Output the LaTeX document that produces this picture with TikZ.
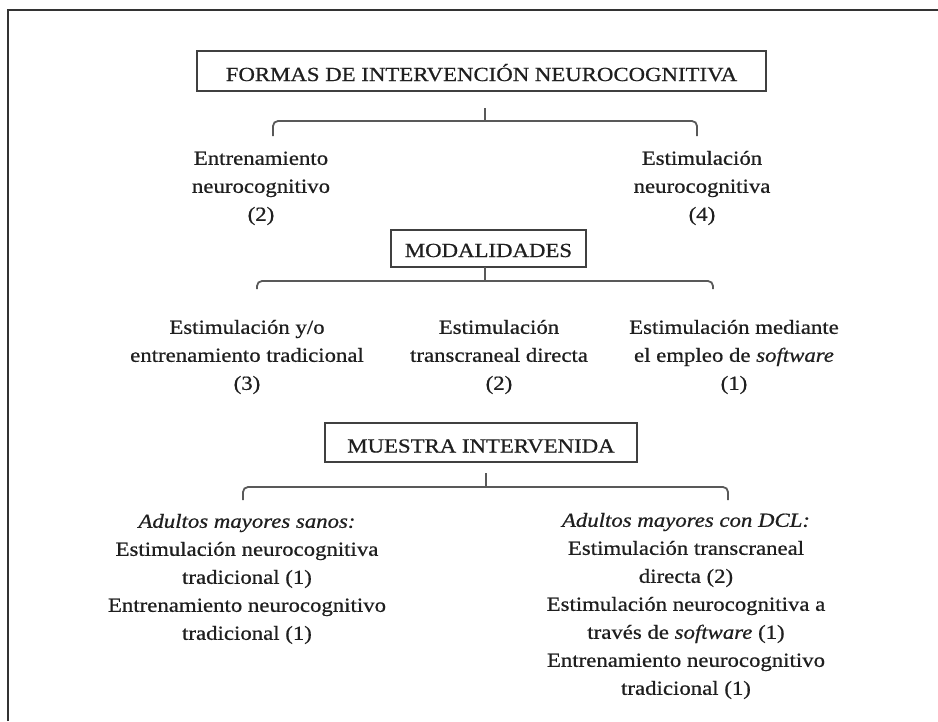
\documentclass[tikz,border=0pt]{standalone}
\usepackage{fontspec}
\setmainfont[FakeStretch=1.14, FakeBold=0.7]{Liberation Serif}
\begin{document}
\begin{tikzpicture}[x=1pt,y=-1pt,
  txt/.style={align=center, anchor=north, inner sep=0pt, text=black!88, font=\fontsize{20}{28}\selectfont},
  box/.style={draw=black!75, line width=1.3pt, inner sep=0pt, text=black!88, text height=20pt, text depth=0pt, font=\fontsize{20}{28}\selectfont},
  bracket/.style={draw=black!65, line width=1.8pt, rounded corners=5pt},
  frame/.style={draw=black!80, line width=2.2pt}]
\useasboundingbox (0,0) rectangle (938,721);
% outer frame (only top and left edges visible)
\draw[frame] (8,721) -- (8,10) -- (938,10);

% boxes
\node[box, minimum width=569pt, minimum height=40pt] (title) at (481.5,71) {FORMAS DE INTERVENCIÓN NEUROCOGNITIVA};
\node[box, minimum width=195pt, minimum height=37pt, text height=17pt] (modal) at (488.5,248.5) {MODALIDADES};
\node[box, minimum width=312pt, minimum height=39pt] (muestra) at (481,442.5) {MUESTRA INTERVENIDA};

% first level
\node[txt] (ent) at (261,145) {\strut Entrenamiento\\ \strut neurocognitivo\\ \strut (2)};
\node[txt] (est) at (702,145) {\strut Estimulación\\ \strut neurocognitiva\\ \strut (4)};

% modalities
\node[txt] (mod1) at (247,314) {\strut Estimulación y/o\\ \strut entrenamiento tradicional\\ \strut (3)};
\node[txt] (mod2) at (499,314) {\strut Estimulación\\ \strut transcraneal directa\\ \strut (2)};
\node[txt] (mod3) at (734,314) {\strut Estimulación mediante\\ \strut el empleo de \textit{software}\\ \strut (1)};

% sample
\node[txt] (sanos) at (247,508) {\strut\textit{Adultos mayores sanos:}\\ \strut Estimulación neurocognitiva\\ \strut tradicional (1)\\ \strut Entrenamiento neurocognitivo\\ \strut tradicional (1)};
\node[txt] (dcl) at (686,507) {\strut\textit{Adultos mayores con DCL:}\\ \strut Estimulación transcraneal\\ \strut directa (2)\\ \strut Estimulación neurocognitiva a\\ \strut través de \textit{software} (1)\\ \strut Entrenamiento neurocognitivo\\ \strut tradicional (1)};

% brackets
\coordinate (s1) at (485,108);
\coordinate (b1l) at (273,136);
\coordinate (b1r) at (697,136);
\draw[bracket] (s1) -- ++(0,13);
\draw[bracket] (b1l) -- ++(0,-15) -| (b1r);

\coordinate (s2) at (485,267);
\coordinate (b2l) at (257,289);
\coordinate (b2r) at (713,289);
\draw[bracket] (s2) -- ++(0,14);
\draw[bracket] (b2l) -- ++(0,-8) -| (b2r);

\coordinate (s3) at (486,473);
\coordinate (b3l) at (243,500);
\coordinate (b3r) at (728,500);
\draw[bracket] (s3) -- ++(0,14);
\draw[bracket] (b3l) -- ++(0,-13) -| (b3r);
\end{tikzpicture}
\end{document}
